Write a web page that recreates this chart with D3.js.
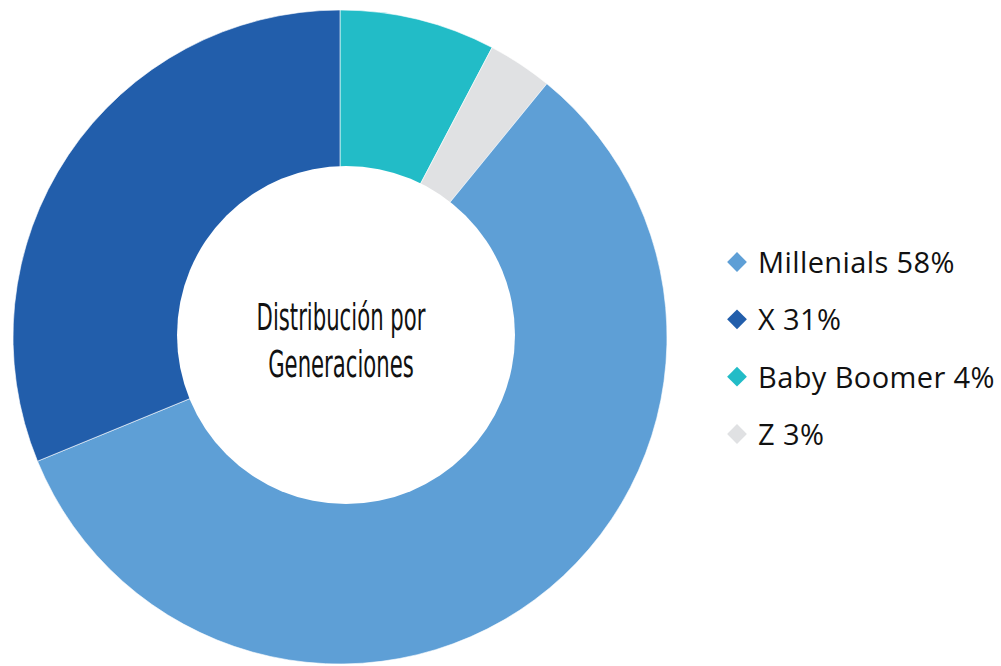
<!DOCTYPE html>
<html><head><meta charset="utf-8">
<script src="https://cdn.jsdelivr.net/npm/d3@7"></script>
<style>body{margin:0;background:#fff;}svg{display:block;}</style>
</head><body>
<svg id="c" width="1001" height="666"></svg>
<script>
// slice order clockwise from 12 o'clock
const sliceNames = ["Baby Boomer", "Z", "Millenials", "X"];
const sliceValues = [7.7, 3.2, 57.9, 31.2];
const colors = ["#22BCC7", "#E0E1E3", "#5E9FD6", "#225EAB"];
const legendNames = ["Millenials", "X", "Baby Boomer", "Z"];
const legendLabels = ["Millenials 58%", "X 31%", "Baby Boomer 4%", "Z 3%"];
const centerLines = ["Distribución por", "Generaciones"];

const svg = d3.select("#c");
const cx = 340, cy = 337, R = 327;
const hole = {x: 346, y: 335, r: 169};
const color = d3.scaleOrdinal().domain(sliceNames).range(colors);
const pie = d3.pie().sort(null).value(d => d.v);
const arc = d3.arc().innerRadius(0).outerRadius(R);
const data = sliceNames.map((n, i) => ({n, v: sliceValues[i]}));
const g = svg.append("g").attr("transform", `translate(${cx},${cy})`);
g.selectAll("path").data(pie(data)).join("path")
  .attr("d", arc).attr("fill", d => color(d.data.n))
  .attr("stroke", "#fff").attr("stroke-width", 0.6);

svg.append("circle").attr("cx", hole.x).attr("cy", hole.y).attr("r", hole.r).attr("fill", "#fff");

svg.append("g").attr("transform", "translate(341,337)")
  .selectAll("text.c").data(centerLines).join("text")
  .attr("class", "c")
  .attr("x", 0).attr("y", (d, i) => -7 + i * 47)
  .attr("text-anchor", "middle")
  .attr("font-family", "'Liberation Sans Narrow', 'DejaVu Sans Condensed', sans-serif")
  .attr("font-size", 38)
  .attr("transform", "scale(0.62,1)")
  .attr("fill", "#111")
  .text(d => d);

const ly = d3.scalePoint().domain(legendNames).range([262, 434]);
const lg = svg.append("g");
const items = lg.selectAll("g").data(legendNames).join("g")
  .attr("transform", d => `translate(737,${ly(d)})`);
items.append("rect").attr("x", -7).attr("y", -7).attr("width", 14).attr("height", 14)
  .attr("transform", "rotate(45)").attr("fill", d => color(d));
items.append("text").attr("x", 21).attr("y", 11)
  .attr("font-family", "'Open Sans', sans-serif").attr("font-size", 29)
  .attr("letter-spacing", 0.4)
  .attr("fill", "#111")
  .text((d, i) => legendLabels[i]);
</script>
</body></html>
